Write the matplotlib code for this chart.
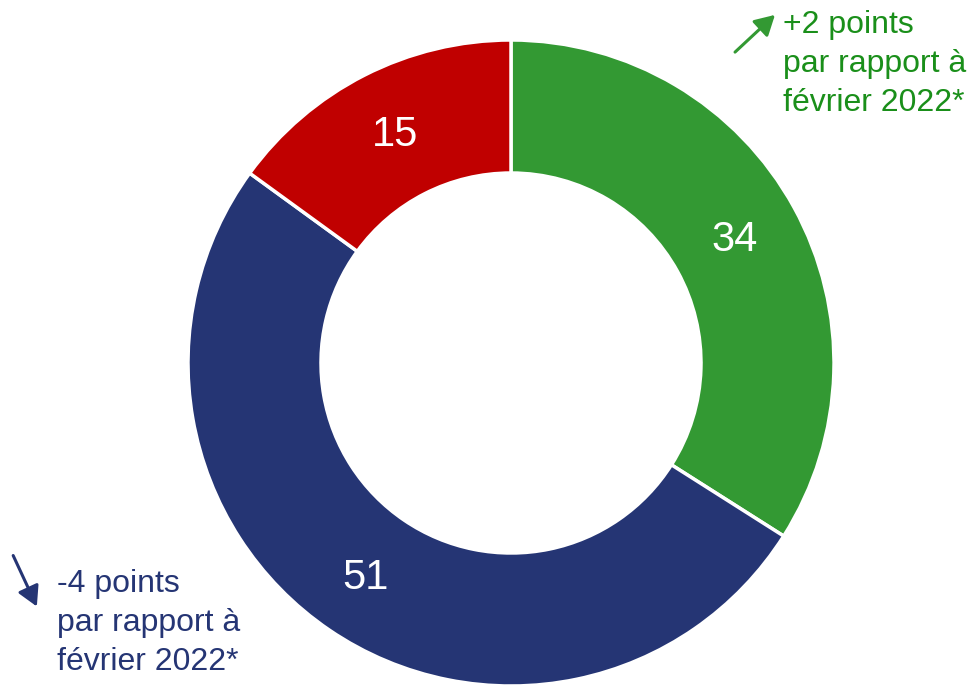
import matplotlib
matplotlib.use("Agg")
import matplotlib.pyplot as plt

values = [34, 51, 15]
labels = ["34", "51", "15"]
colors = ["#339933", "#253574", "#C00000"]
notes = ["+2 points\npar rapport à\nfévrier 2022*", "-4 points\npar rapport à\nfévrier 2022*"]

W, H = 971, 685
fig = plt.figure(figsize=(W / 100, H / 100), dpi=100)
ax = fig.add_axes([0, 0, 1, 1])
plt.rcParams['font.family'] = ['Liberation Sans', 'DejaVu Sans']

def py(y):
    return H - y

cx, cy, R = 511, py(363), 323
wedges, _ = ax.pie(values, colors=colors, startangle=90, counterclock=False,
                   center=(cx, cy), radius=R,
                   wedgeprops=dict(width=R - 190, edgecolor="white", linewidth=2.5))
ax.set_xlim(0, W)
ax.set_ylim(0, H)
ax.set_aspect("equal")
ax.axis("off")

label_pos = [(735, 240), (365, 578), (395, 135)]
for lab, (x, y) in zip(labels, label_pos):
    ax.text(x, py(y), lab, color="white", fontsize=30, ha="center", va="center",
            family=['Liberation Sans', 'DejaVu Sans'])

ax.text(783, py(64), notes[0], color="#1A8F1A", fontsize=23, ha="left", va="center",
        linespacing=1.38, family=['Liberation Sans', 'DejaVu Sans'])
ax.annotate("", xy=(777, py(13)), xytext=(733, py(54)),
            arrowprops=dict(arrowstyle="-|>,head_width=0.28,head_length=0.5",
                            color="#339933", lw=2.2, mutation_scale=24))

ax.text(57, py(623), notes[1], color="#253574", fontsize=23, ha="left", va="center",
        linespacing=1.38, family=['Liberation Sans', 'DejaVu Sans'])
ax.annotate("", xy=(38, py(609)), xytext=(12, py(553)),
            arrowprops=dict(arrowstyle="-|>,head_width=0.28,head_length=0.5",
                            color="#253574", lw=2.2, mutation_scale=24))

fig.savefig("out.png", dpi=100)
